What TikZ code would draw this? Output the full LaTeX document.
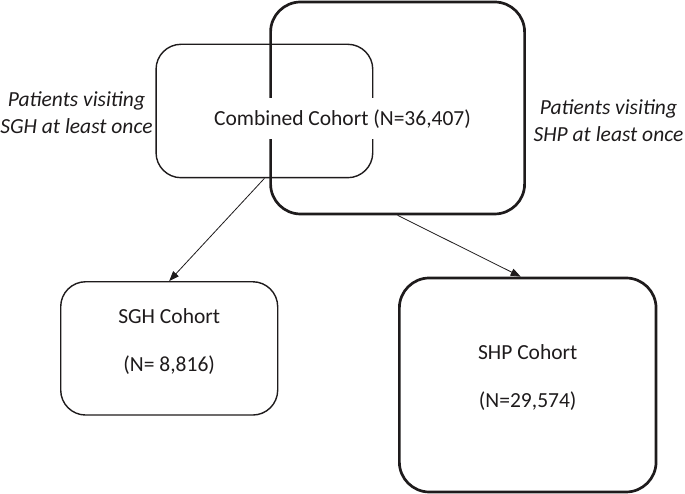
\documentclass[tikz,border=0pt]{standalone}
\usepackage{fontspec}
\setmainfont{Carlito}
\usepackage{xcolor}
\usetikzlibrary{arrows.meta,positioning}
\definecolor{inkgray}{RGB}{30,27,28}
\newcommand{\lowstrut}{\rule[-17pt]{0pt}{17pt}}

\begin{document}
\begin{tikzpicture}[x=1pt,y=1pt,
  thinbox/.style={draw=inkgray, line width=1.4pt, rounded corners=25pt, inner sep=0pt},
  thickbox/.style={draw=inkgray, line width=2.7pt, rounded corners=30pt, inner sep=0pt},
  cohorttxt/.style={align=center, text=inkgray, font=\fontsize{21.5}{48}\selectfont},
  sidetxt/.style={align=center, text=inkgray, font=\fontsize{21.5}{27}\selectfont\itshape},
  arr/.style={draw=inkgray, line width=0.8pt, -{Triangle[length=10pt,width=7.5pt]}}]
\useasboundingbox (0,0) rectangle (685,494);
% overlapping source boxes
\node[thinbox, minimum width=216.7pt, minimum height=133.4pt] (sghbox) at (264.4,383) {};
\node[thickbox, minimum width=254pt, minimum height=212pt] (shpbox) at (397.6,386) {};
\node[fill=white, text=inkgray, font=\fontsize{21.5}{27}\selectfont, inner xsep=3pt, minimum height=41pt] (combined) at (342.5,375) {Combined Cohort (N=36,407)};
\node[sidetxt] (sghlabel) at (76.5,381) {Patients visiting\\SGH at least once};
\node[sidetxt] (shplabel) at (608.5,373) {Patients visiting\\SHP at least once};
% resulting cohorts
\node[thinbox, cohorttxt, minimum width=217pt, minimum height=133.3pt] (sghc) at (169.2,145.6) {SGH Cohort\\(N= 8,816)\lowstrut};
\node[thickbox, cohorttxt, minimum width=256.7pt, minimum height=214pt] (shpc) at (527.7,109) {SHP Cohort\\(N=29,574)\lowstrut};
\draw[arr] (sghbox.south) -- (sghc.north);
\draw[arr] (shpbox.south) -- ([xshift=-7pt]shpc.north);
\end{tikzpicture}
\end{document}
